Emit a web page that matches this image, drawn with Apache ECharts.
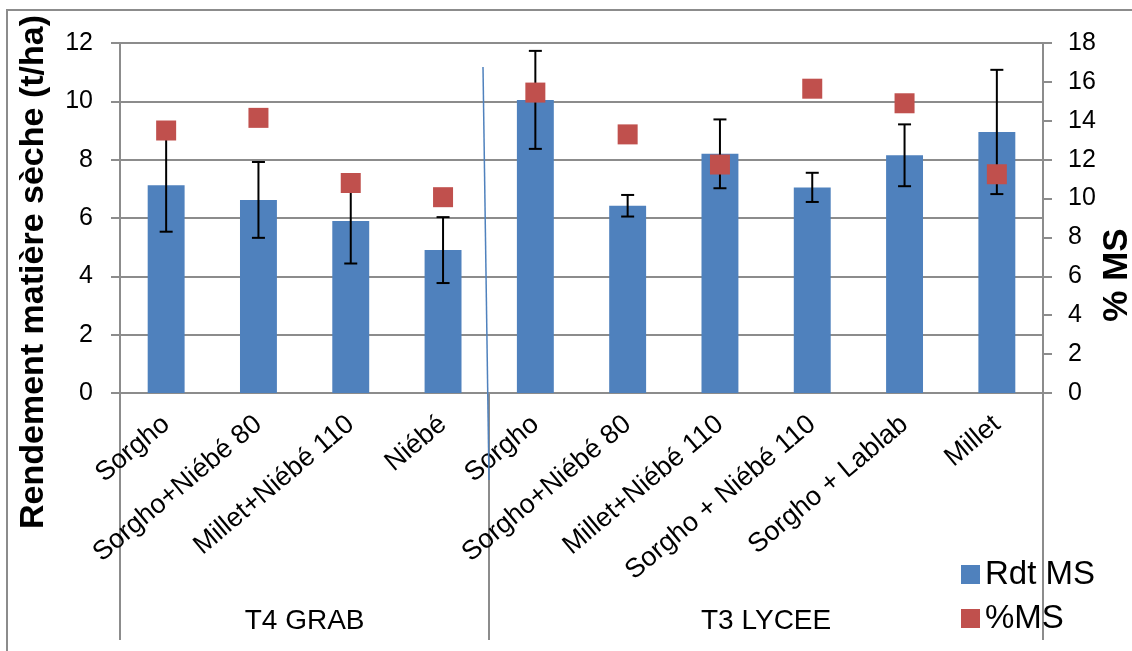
<!DOCTYPE html>
<html>
<head>
<meta charset="utf-8">
<script src="https://cdn.jsdelivr.net/npm/echarts@6/dist/echarts.min.js"></script>
<style>html,body{margin:0;padding:0;background:#fff;}#c{width:1132px;height:651px;}</style>
</head>
<body>
<div id="c"></div>
<script>
// ---- data ----
const categories = ["Sorgho","Sorgho+Niébé 80","Millet+Niébé 110","Niébé","Sorgho","Sorgho+Niébé 80","Millet+Niébé 110","Sorgho + Niébé 110","Sorgho + Lablab","Millet"];
const groups = ["T4 GRAB","T3 LYCEE"];
const groupSizes = [4, 6];
const rdtMS = [7.12, 6.62, 5.9, 4.9, 10.05, 6.42, 8.2, 7.05, 8.15, 8.95];
const rdtErr = [1.59, 1.3, 1.46, 1.13, 1.68, 0.37, 1.18, 0.5, 1.06, 2.13];
const pctMS = [13.5, 14.15, 10.8, 10.07, 15.45, 13.3, 11.75, 15.65, 14.9, 11.25];
const leftTicks = [0, 12, 2];
const rightTicks = [0, 18, 2];

// derived group boundaries / centres
const bounds = [0]; groupSizes.forEach(s => bounds.push(bounds[bounds.length-1] + s));
const centres = groupSizes.map((s, i) => bounds[i] + s / 2);

const FONT = "'Liberation Sans', Arial, sans-serif";
const GRID = '#8c8c8c';
const chart = echarts.init(document.getElementById('c'));
chart.setOption({
  animation: false,
  textStyle: { fontFamily: FONT, color: '#000' },
  grid: { left: 120, right: 89, top: 43, bottom: 258, containLabel: false },
  legend: {
    orient: 'vertical', left: 956, top: 553, itemWidth: 19, itemHeight: 19, itemGap: 11,
    textStyle: { fontSize: 33, color: '#000', fontFamily: FONT, lineHeight: 33 },
    data: [{ name: 'Rdt MS', icon: 'rect' }, { name: '%MS', icon: 'rect' }]
  },
  xAxis: [
    {
      type: 'category', data: categories, position: 'bottom', offset: 0,
      axisLine: { show: true, lineStyle: { color: GRID, width: 2 } },
      axisTick: { show: false },
      axisLabel: { interval: 0, rotate: 40, fontSize: 27, margin: 28, color: '#000', fontFamily: FONT }
    },
    {
      type: 'value', min: bounds[0], max: bounds[bounds.length-1], position: 'bottom', offset: 0,
      axisLine: { show: false },
      splitLine: { show: false },
      axisTick: { show: true, customValues: bounds, length: 247, lineStyle: { color: GRID, width: 2 } },
      axisLabel: {
        show: true, customValues: centres, margin: 214, fontSize: 28, color: '#000', fontFamily: FONT,
        formatter: v => { const i = centres.indexOf(v); return i >= 0 ? groups[i] : ''; }
      }
    }
  ],
  yAxis: [
    {
      type: 'value', min: leftTicks[0], max: leftTicks[1], interval: leftTicks[2],
      axisLine: { show: true, lineStyle: { color: GRID, width: 2 } },
      axisTick: { show: true, length: 9, lineStyle: { color: GRID, width: 2 } },
      splitLine: { show: true, lineStyle: { color: GRID, width: 2 } },
      axisLabel: { fontSize: 25, margin: 27, color: '#000', fontFamily: FONT }
    },
    {
      type: 'value', min: rightTicks[0], max: rightTicks[1], interval: rightTicks[2], position: 'right',
      axisLine: { show: true, lineStyle: { color: GRID, width: 2 } },
      axisTick: { show: true, length: 9, lineStyle: { color: GRID, width: 2 } },
      splitLine: { show: false },
      axisLabel: { fontSize: 25, margin: 25, color: '#000', fontFamily: FONT }
    }
  ],
  series: [
    {
      name: 'Rdt MS', type: 'bar', data: rdtMS, barWidth: '40%', z: 2,
      itemStyle: { color: '#4f81bd' }
    },
    {
      name: 'errors', type: 'custom', z: 3, xAxisIndex: 0, yAxisIndex: 0,
      data: rdtMS.map((v, i) => [i, v - rdtErr[i], v + rdtErr[i]]),
      renderItem: (params, api) => {
        const lo = api.coord([api.value(0), api.value(1)]);
        const hi = api.coord([api.value(0), api.value(2)]);
        const hw = 6.5;
        const st = { stroke: '#000', lineWidth: 2 };
        return { type: 'group', children: [
          { type: 'line', shape: { x1: lo[0], y1: lo[1], x2: hi[0], y2: hi[1] }, style: st },
          { type: 'line', shape: { x1: lo[0]-hw, y1: lo[1], x2: lo[0]+hw, y2: lo[1] }, style: st },
          { type: 'line', shape: { x1: hi[0]-hw, y1: hi[1], x2: hi[0]+hw, y2: hi[1] }, style: st }
        ]};
      }
    },
    {
      name: '%MS', type: 'scatter', yAxisIndex: 1, data: pctMS, symbol: 'rect', symbolSize: 20, z: 4,
      itemStyle: { color: '#c0504d', opacity: 1 }
    }
  ],
  graphic: [
    { type: 'rect', shape: { x: 7, y: 10, width: 1140, height: 660 }, style: { fill: 'none', stroke: '#8c8c8c', lineWidth: 2 }, silent: true },
    { type: 'line', shape: { x1: 483, y1: 67, x2: 489, y2: 480 }, style: { stroke: '#4f81bd', lineWidth: 1.5 }, z: 10, silent: true },
    { type: 'text', x: 34, y: 272, rotation: Math.PI / 2,
      style: { text: 'Rendement matière sèche (t/ha)', font: "bold 34px 'Liberation Sans', Arial, sans-serif", fill: '#000', align: 'center', verticalAlign: 'middle' } },
    { type: 'text', x: 1117, y: 275, rotation: Math.PI / 2,
      style: { text: '% MS', font: "bold 35px 'Liberation Sans', Arial, sans-serif", fill: '#000', align: 'center', verticalAlign: 'middle' } }
  ]
});
</script>
</body>
</html>
